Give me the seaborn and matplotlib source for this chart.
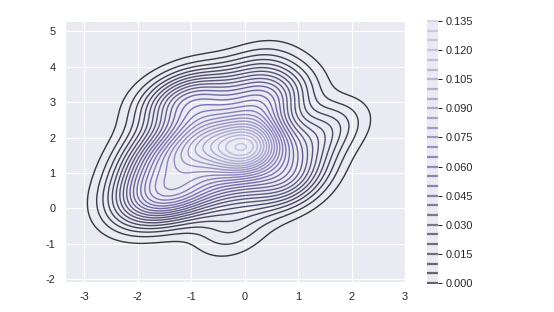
import numpy as np
import matplotlib
matplotlib.use("Agg")
import matplotlib.pyplot as plt
import seaborn as sns
from seaborn._statistics import KDE

# sample points (hand-estimated from the contour shapes)
x_vals = [-1.1, -1.1, -0.9, -0.8, -0.6, -0.55, -0.4, 0.05, 0.1, -0.1, 0.0, 0.1, 0.2, 0.35,
          0.5, -1.3, 0.0,
          -1.6, -1.2, -0.8, -0.4, 0.0, 0.5, 0.9, -1.0,
          -0.25, -1.6, 0.8,
          -1.9, -1.75,
          0.3, 0.5, 0.3, 0.25, 0.75, 0.1,
          -0.9, -0.5, -1.35, -0.9, -0.4,
          1.2, 1.65, 1.1,
          -2.0, -1.4, -2.05, -1.5, -1.0, -1.7]
y_vals = [1.9, 1.3, 1.6, 2.1, 1.8, 1.4, 2.0, 1.6, 1.5, 1.8, 1.7, 1.4, 1.75, 1.9,
          1.5, 1.6, 2.1,
          0.6, 0.55, 0.6, 0.55, 0.65, 0.65, 0.9, 0.3,
          -0.6, 0.1, 0.6,
          1.0, 1.75,
          2.6, 3.0, 3.4, 3.9, 3.3, 2.9,
          2.6, 2.6, 2.8, 3.2, 3.3,
          2.0, 2.35, 1.3,
          0.05, 0.3, 0.45, 3.0, 3.3, 1.3]
level_step = 0.005
level_max = 0.135
cbar_ticks = [0.000, 0.015, 0.030, 0.045, 0.060, 0.075, 0.090, 0.105, 0.120, 0.135]
x_lim = (-3.36, 3.0)
y_lim = (-2.08, 5.29)

sns.set_theme(context="notebook", style="darkgrid")
plt.rcParams['font.family'] = ['Liberation Sans', 'DejaVu Sans']
plt.rcParams['axes.unicode_minus'] = False

W, H = 554, 312
fig = plt.figure(figsize=(W / 72, H / 72), dpi=72)
ax = fig.add_axes([65 / W, (H - 282) / H, 340 / W, 261 / H])
cax = fig.add_axes([427 / W, (H - 283) / H, 11 / W, 262 / H])

cmap = sns.blend_palette(["#333333"] + sns.color_palette("Purples_r", 2), as_cmap=True)

kde = KDE(bw_method="scott", gridsize=100, cut=3)
density, (gx, gy) = kde(np.asarray(x_vals), np.asarray(y_vals))
levels = np.arange(0, level_max + level_step / 2, level_step)
cset = ax.contour(gx, gy, density, levels=levels, cmap=cmap, linewidths=1.4)
ax.set_xlim(*x_lim)
ax.set_ylim(*y_lim)
ax.tick_params(labelsize=11, colors=".15")

cb = fig.colorbar(cset, cax=cax, ticks=cbar_ticks)
cb.outline.set_visible(False)
for coll in cb.lines:
    coll.set_linewidth(2.2)
    coll.set_alpha(0.75)
cax.tick_params(labelsize=11, length=4, width=1, color=".15", labelcolor=".15")
cax.yaxis.set_major_formatter(matplotlib.ticker.FormatStrFormatter("%.3f"))

fig.savefig("out.png", dpi=72)
